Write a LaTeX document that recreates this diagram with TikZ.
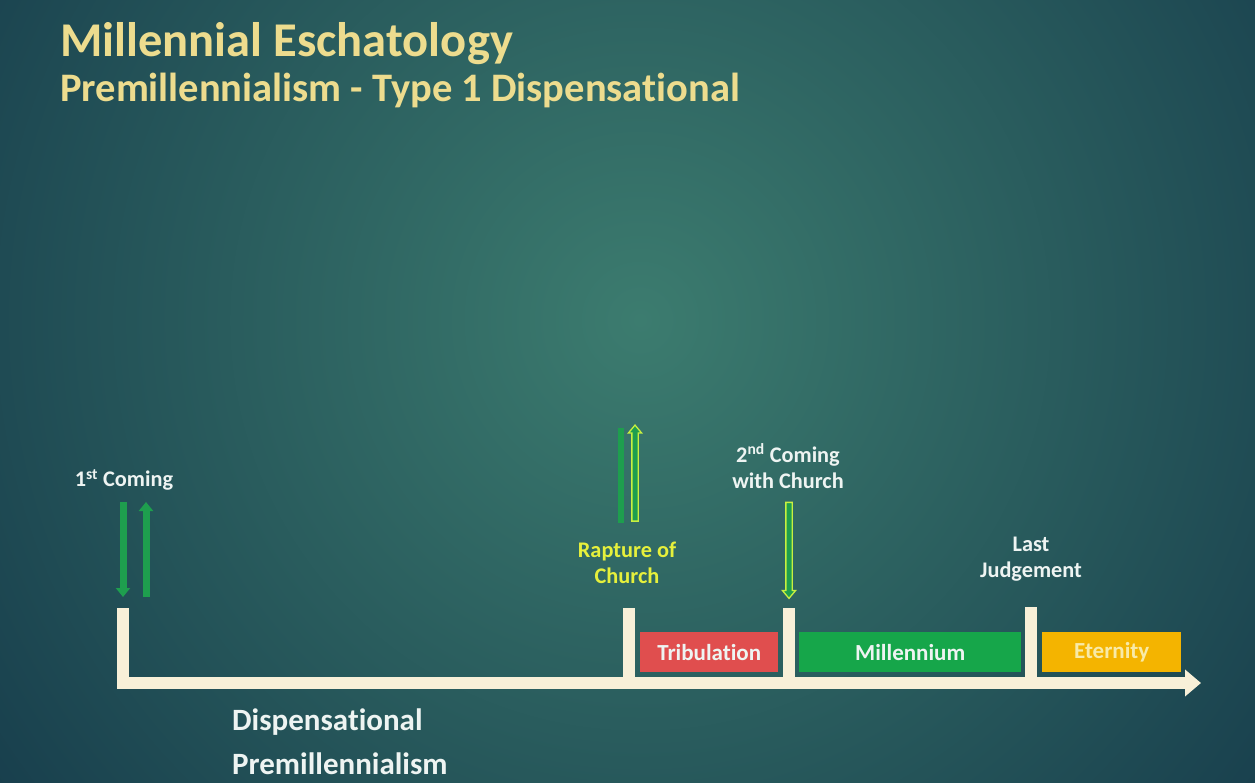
\documentclass[tikz,border=0pt]{standalone}
\usepackage{fontspec}
\setmainfont{Carlito}[Ligatures=NoCommon]
\usetikzlibrary{shapes.arrows,arrows.meta}
\definecolor{bgc}{HTML}{3C7C6F}
\definecolor{bge}{HTML}{173D4C}
\definecolor{cream}{HTML}{F8F0D8}
\definecolor{gold}{HTML}{EDDC8E}
\definecolor{agreen}{HTML}{1E9E4E}
\definecolor{ygreen}{HTML}{C8F040}
\definecolor{ylabel}{HTML}{E6F03C}
\definecolor{tred}{HTML}{E04E4E}
\definecolor{mgreen}{HTML}{16A64A}
\definecolor{eorange}{HTML}{F4B400}
\definecolor{etext}{HTML}{F8EAA8}
\definecolor{ltext}{HTML}{EEF4F2}
\begin{document}
\begin{tikzpicture}[x=1pt,y=-1pt,
  lbl/.style={text=ltext,font=\bfseries\fontsize{22.3}{26}\selectfont,align=center,inner sep=0},
  tickbar/.style={fill=cream,minimum width=12pt,minimum height=75pt,inner sep=0,anchor=north},
  period/.style={minimum width=#1,minimum height=40pt,inner sep=0,anchor=north west,text=ltext,font=\bfseries\fontsize{23}{26}\selectfont},
  solidarr/.style={draw=agreen,line width=7pt,-{Triangle[length=9pt,width=14pt]}},
  hollowarr/.style={single arrow,draw=ygreen,fill=agreen,line width=1.3pt,text height=0pt,text depth=0pt,inner ysep=2.5pt,inner xsep=0pt,single arrow head extend=3.5pt,single arrow tip angle=80,minimum height=96pt},
  title/.style={text=gold,anchor=base west,inner sep=0,font=\bfseries\fontsize{#1}{#1}\selectfont}]
\useasboundingbox (0,0) rectangle (1255,783);
\begin{scope}
\clip (0,0) rectangle (1255,783);
\fill[bge] (0,0) rectangle (1255,783);
\shade[inner color=bgc, outer color=bge] (640,320) circle (820);
\end{scope}
% titles
\node[title=48.5] (t1) at (60,57) {Millennial Eschatology};
\node[title=40.5] (t2) at (60,102) {Premillennialism - Type 1 Dispensational};
% axis
\coordinate (ax0) at (117,683);
\coordinate (ax1) at (1201,683);
\draw[cream,line width=12pt,-{Triangle[length=16pt,width=26pt]}] (ax0) -- (ax1);
% ticks
\node[tickbar] (k1) at (123,608) {};
\node[tickbar] (k2) at (629,608) {};
\node[tickbar] (k3) at (789,608) {};
\node[tickbar] (k4) at (1031,607) {};
% periods
\node[period=138pt,fill=tred] (trib) at (640,632) {Tribulation};
\node[period=222pt,fill=mgreen] (mill) at (799,632) {Millennium};
\node[period=139pt,fill=eorange,text=etext] (eter) at (1042,632) {Eternity};
% labels
\node[lbl] (l1) at (124,480) {1\textsuperscript{st} Coming};
\node[lbl,text=ylabel] (l2) at (627,563) {Rapture of\\Church};
\node[lbl] (l3) at (788,466) {2\textsuperscript{nd} Coming\\with Church};
\node[lbl] (l4) at (1031,559) {Last\\Judgement};
\node[text=ltext,anchor=west,inner sep=0,font=\bfseries\fontsize{31}{44}\selectfont,align=left] (d1) at (232,742) {Dispensational\\Premillennialism};
% first coming arrows
\coordinate (a1t) at (123,502);
\coordinate (a1b) at (123,597);
\coordinate (a2t) at (146,502);
\coordinate (a2b) at (146,597);
\draw[solidarr] (a1t) -- (a1b);
\draw[solidarr] (a2b) -- (a2t);
% rapture
\coordinate (rbt) at (621,428);
\coordinate (rbb) at (621,523);
\draw[agreen,line width=6pt] (rbb) -- (rbt);
\node[hollowarr,rotate=90] (rap) at (635,475) {};
% second coming
\node[hollowarr,rotate=-90] (sec) at (789,548.5) {};
\end{tikzpicture}
\end{document}
